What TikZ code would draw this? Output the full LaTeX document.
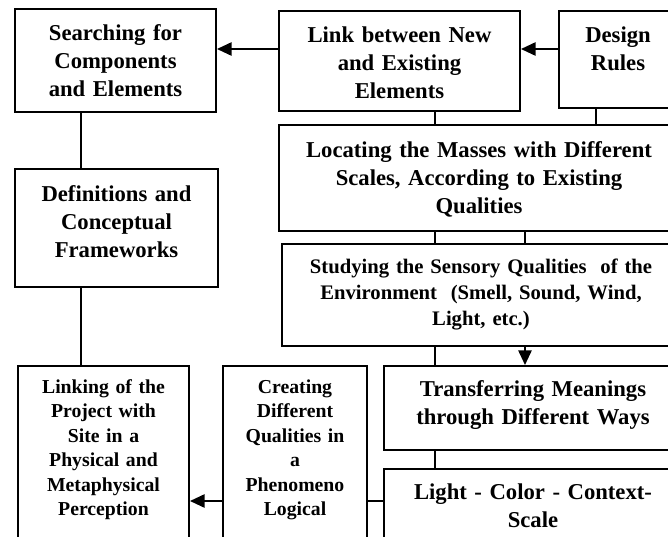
\documentclass[tikz,border=0pt]{standalone}
\usepackage{fontspec}
\setmainfont{Liberation Serif}
\usetikzlibrary{positioning,calc,arrows.meta}

\begin{document}
\begin{tikzpicture}[x=0.75pt,y=-0.75pt]
    \tikzstyle{stage}=[draw, line width=1.5pt, anchor=north west, align=center, inner sep=0pt]
    \tikzstyle{bigtxt}=[font=\bfseries\fontsize{17pt}{21pt}\selectfont]
    \tikzstyle{midtxt}=[font=\bfseries\fontsize{15.5pt}{19.5pt}\selectfont]
    \tikzstyle{smalltxt}=[font=\bfseries\fontsize{14.8pt}{18.4pt}\selectfont]
    \tikzstyle{con}=[line width=1.3pt]
    \tikzstyle{conarr}=[line width=1.3pt, -{Triangle[length=11pt,width=10pt]}]

    \useasboundingbox (0,0) rectangle (668,536);
    \clip (0,0) rectangle (668,536);

    \coordinate (rowA) at (0,49);
    \coordinate (rowB) at (0,501);
    \coordinate (colA) at (81,0);
    \coordinate (colB) at (435,0);
    \coordinate (colC) at (525,0);
    \coordinate (colD) at (596,0);

    \node[stage, bigtxt, text width=150.75pt, text height=23.25pt, text depth=54pt] (search) at (14,8)
        {Searching for\\Components\\and Elements};
    \node[stage, bigtxt, text width=152.25pt, text height=24pt, text depth=64.5pt] (defs) at (14,168)
        {Definitions and\\Conceptual\\Frameworks};
    \node[stage, bigtxt, text width=180.75pt, text height=23.25pt, text depth=51.75pt] (newold) at (278,10)
        {Link between New\\and Existing\\Elements};
    \node[stage, bigtxt, text width=88.5pt, text height=23.25pt, text depth=49.5pt] (rules) at (558,10)
        {Design\\Rules};
    \node[stage, bigtxt, text width=300pt, text height=24pt, text depth=55.5pt] (masses) at (278,124)
        {Locating the Masses with Different\\Scales, According to Existing\\Qualities};
    \node[stage, midtxt, text width=298.5pt, text height=21.75pt, text depth=54.75pt] (sensory) at (281,243)
        {Studying the Sensory Qualities\ \ of the\\Environment\ \ (Smell, Sound, Wind,\\Light, etc.)};
    \node[stage, bigtxt, text width=223.5pt, text height=22.5pt, text depth=40.5pt] (meanings) at (383,365)
        {Transferring Meanings\\through Different Ways};
    \node[stage, bigtxt, text width=223.5pt, text height=22.5pt, text depth=67.5pt] (light) at (383,468)
        {Light - Color - Context-\\Scale};
    \node[stage, smalltxt, text width=108pt, text height=20.25pt, text depth=129.75pt] (qualities) at (222,365)
        {Creating\\Different\\Qualities in\\a\\Phenomeno\\Logical};
    \node[stage, smalltxt, text width=128.25pt, text height=20.25pt, text depth=129.75pt] (site) at (17,365)
        {Linking of the\\Project with\\Site in a\\Physical and\\Metaphysical\\Perception};

    \draw[conarr] (rules.west |- rowA) -- (newold.east |- rowA);
    \draw[conarr] (newold.west |- rowA) -- (search.east |- rowA);
    \draw[con] (search.south -| colA) -- (defs.north -| colA);
    \draw[con] (defs.south -| colA) -- (site.north -| colA);
    \draw[con] (newold.south -| colB) -- (masses.north -| colB);
    \draw[con] (rules.south -| colD) -- (masses.north -| colD);
    \draw[con] (masses.south -| colB) -- (sensory.north -| colB);
    \draw[con] (masses.south -| colC) -- (sensory.north -| colC);
    \draw[con] (sensory.south -| colB) -- (meanings.north -| colB);
    \draw[conarr] (sensory.south -| colC) -- (meanings.north -| colC);
    \draw[con] (meanings.south -| colB) -- (light.north -| colB);
    \draw[con] (light.west |- rowB) -- (qualities.east |- rowB);
    \draw[conarr] (qualities.west |- rowB) -- (site.east |- rowB);

\end{tikzpicture}
\end{document}
